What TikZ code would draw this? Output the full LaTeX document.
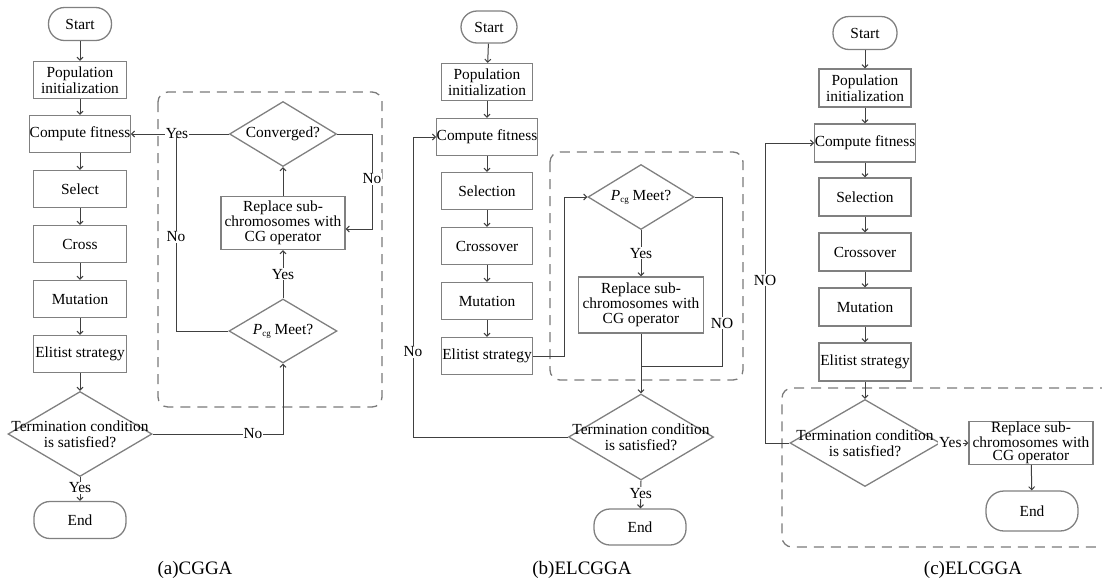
\documentclass[tikz,border=0pt]{standalone}
\usepackage{fontspec}
\setmainfont{Liberation Serif}
\usetikzlibrary{arrows.meta,shapes.geometric}
\definecolor{boxgray}{HTML}{808080}
\definecolor{linegray}{HTML}{404040}
\definecolor{dashgray}{HTML}{7A7A7A}
\newcommand{\fs}{\fontsize{15.4}{16}\selectfont}
\newcommand{\pcg}{{\itshape P}\raisebox{-2pt}{\fontsize{9}{9}\selectfont cg}}
\begin{document}
\begin{tikzpicture}[x=1pt,y=-1pt,
  stepbox/.style={draw=boxgray,line width=1.3pt,minimum width=93pt,minimum height=37pt,inner sep=0pt,align=center,font=\fs},
  term/.style={stepbox,minimum width=#1,rounded corners=16pt},
  dia/.style={diamond,draw=boxgray,line width=1.3pt,inner sep=0pt},
  txt/.style={align=center,font=\fs,inner sep=0pt},
  conn/.style={draw=linegray,line width=1pt},
  arr/.style={conn,-{Straight Barb[length=3pt,width=6pt]}},
  lbl/.style={fill=white,inner sep=1pt,font=\fs},
  dbox/.style={draw=dashgray,line width=1.3pt,dash pattern=on 10pt off 7pt,rounded corners=10pt},
  captxt/.style={font=\fontsize{19}{19}\selectfont}]
\useasboundingbox (0,0) rectangle (1102,582);

% ---------------- (a) ----------------
\draw[dbox] (158,92) rectangle (382,407);
\node[term=63pt,minimum height=33pt] (a-start) at (80,24) {Start};
\node[stepbox] (a-pop) at (80,80) {Population\\initialization};
\node[stepbox] (a-cf) at (80,134) {Compute fitness};
\node[stepbox] (a-sel) at (80,189) {Select};
\node[stepbox] (a-cr) at (80,244) {Cross};
\node[stepbox] (a-mu) at (80,299) {Mutation};
\node[stepbox] (a-el) at (80,354) {Elitist strategy};
\node[dia,minimum width=144pt,minimum height=85pt] (a-term) at (80,434) {};
\node[txt] at (a-term) {Termination condition\\is satisfied?};
\node[term=92pt] (a-end) at (80,520) {End};
\node[dia,minimum width=107pt,minimum height=65pt] (a-conv) at (283,134) {};
\node[txt] at (a-conv) {Converged?};
\node[stepbox,minimum width=124pt,minimum height=53pt,font=\fontsize{15.4}{15}\selectfont] (a-rep) at (283,223) {Replace sub-\\chromosomes with\\CG operator};
\node[dia,minimum width=108pt,minimum height=64pt] (a-pcg) at (283,331) {};
\node[txt] at (a-pcg) {\pcg\ Meet?};
\coordinate (a-j1) at (176,134);
\coordinate (a-c1) at (372,229);

\draw[arr] (a-start) -- (a-pop);
\draw[arr] (a-pop) -- (a-cf);
\draw[arr] (a-cf) -- (a-sel);
\draw[arr] (a-sel) -- (a-cr);
\draw[arr] (a-cr) -- (a-mu);
\draw[arr] (a-mu) -- (a-el);
\draw[arr] (a-el) -- (a-term.north);
\draw[arr] (a-term.south) -- node[lbl,pos=0.45]{Yes} (a-end);
\draw[arr] (a-conv.west) -- (a-cf.east);
\node[lbl] at (177,134) {Yes};
\draw[conn] (a-pcg.west) -| (a-j1);
\node[lbl] at (176,237) {No};
\draw[arr] (a-conv.east) -| (a-c1) -- (a-c1 -| a-rep.east);
\node[lbl] at (372,179) {No};
\draw[arr] (a-rep.north) -- (a-conv.south);
\draw[arr] (a-pcg.north) -- node[lbl]{Yes} (a-rep.south);
\draw[arr] (a-term.east) -| (a-pcg.south);
\node[lbl] at (253,434) {No};
\node[captxt] (a-cap) at (195,570) {(a)CGGA};

% ---------------- (b) ----------------
\draw[dbox] (550,152) rectangle (743,380);
\node[term=56pt,minimum height=32pt] (b-start) at (489,27) {Start};
\node[stepbox,minimum width=91pt] (b-pop) at (487,82) {Population\\initialization};
\node[stepbox,minimum width=91pt] (b-cf) at (487,137) {Compute fitness};
\node[stepbox,minimum width=91pt] (b-sel) at (487,191) {Selection};
\node[stepbox,minimum width=91pt] (b-cr) at (487,246) {Crossover};
\node[stepbox,minimum width=91pt] (b-mu) at (487,301) {Mutation};
\node[stepbox,minimum width=91pt] (b-el) at (487,356) {Elitist strategy};
\node[dia,minimum width=145pt,minimum height=86pt] (b-term) at (641,437) {};
\node[txt] at (b-term) {Termination condition\\is satisfied?};
\node[term=92pt,minimum height=36pt] (b-end) at (640,527) {End};
\node[dia,minimum width=106pt,minimum height=65pt] (b-pcg) at (641,197) {};
\node[txt] at (b-pcg) {\pcg\ Meet?};
\node[stepbox,minimum width=125pt,minimum height=56pt,font=\fontsize{15.4}{15}\selectfont] (b-rep) at (641,305) {Replace sub-\\chromosomes with\\CG operator};
\coordinate (b-c1) at (564,356);
\coordinate (b-c2) at (722,366);
\coordinate (b-c3) at (413,437);

\draw[arr] (b-start) -- (b-pop);
\draw[arr] (b-pop) -- (b-cf);
\draw[arr] (b-cf) -- (b-sel);
\draw[arr] (b-sel) -- (b-cr);
\draw[arr] (b-cr) -- (b-mu);
\draw[arr] (b-mu) -- (b-el);
\draw[arr] (b-el.east) -- (b-c1) |- (b-pcg.west);
\draw[arr] (b-pcg.south) -- node[lbl]{Yes} (b-rep.north);
\draw[conn] (b-pcg.east) -| (b-c2) -- (b-c2 -| b-rep.south);
\node[lbl] at (722,323) {NO};
\draw[arr] (b-rep.south) -- (b-term.north);
\draw[arr] (b-term.west) -- (b-c3) |- (b-cf.west);
\node[lbl] at (413,352) {No};
\draw[arr] (b-term.south) -- node[lbl,pos=0.45]{Yes} (b-end);
\node[captxt] (b-cap) at (582,570) {(b)ELCGGA};

% ---------------- (c) ----------------
\draw[dbox] (1110,388) -- (782,388) -- (782,547) -- (1110,547);
\node[term=64pt,minimum height=33pt] (c-start) at (865,33) {Start};
\node[stepbox,minimum width=92pt,minimum height=38pt] (c-pop) at (865,88) {Population\\initialization};
\node[stepbox,minimum width=92pt,minimum height=38pt] (c-cf) at (865,143) {Compute fitness};
\node[stepbox,minimum width=92pt,minimum height=38pt] (c-sel) at (865,197) {Selection};
\node[stepbox,minimum width=92pt,minimum height=38pt] (c-cr) at (865,252) {Crossover};
\node[stepbox,minimum width=92pt,minimum height=38pt] (c-mu) at (865,307) {Mutation};
\node[stepbox,minimum width=92pt,minimum height=38pt] (c-el) at (865,362) {Elitist strategy};
\node[dia,minimum width=150pt,minimum height=87pt] (c-term) at (865,443) {};
\node[txt] at (c-term) {Termination condition\\is satisfied?};
\node[stepbox,minimum width=124pt,minimum height=42pt,font=\fontsize{15.4}{13.5}\selectfont] (c-rep) at (1031,443) {Replace sub-\\chromosomes with\\CG operator};
\node[term=92pt,minimum height=40pt,rounded corners=18pt] (c-end) at (1032,511) {End};
\coordinate (c-c1) at (765,443);

\draw[arr] (c-start) -- (c-pop);
\draw[arr] (c-pop) -- (c-cf);
\draw[arr] (c-cf) -- (c-sel);
\draw[arr] (c-sel) -- (c-cr);
\draw[arr] (c-cr) -- (c-mu);
\draw[arr] (c-mu) -- (c-el);
\draw[arr] (c-el) -- (c-term.north);
\draw[arr] (c-term.west) -- (c-c1) |- (c-cf.west);
\node[lbl] at (765,280) {NO};
\draw[arr] (c-term.east) -- node[lbl,pos=0.35]{Yes} (c-rep.west);
\draw[arr] (c-rep) -- (c-end);
\node[captxt] (c-cap) at (973,570) {(c)ELCGGA};
\end{tikzpicture}
\end{document}
